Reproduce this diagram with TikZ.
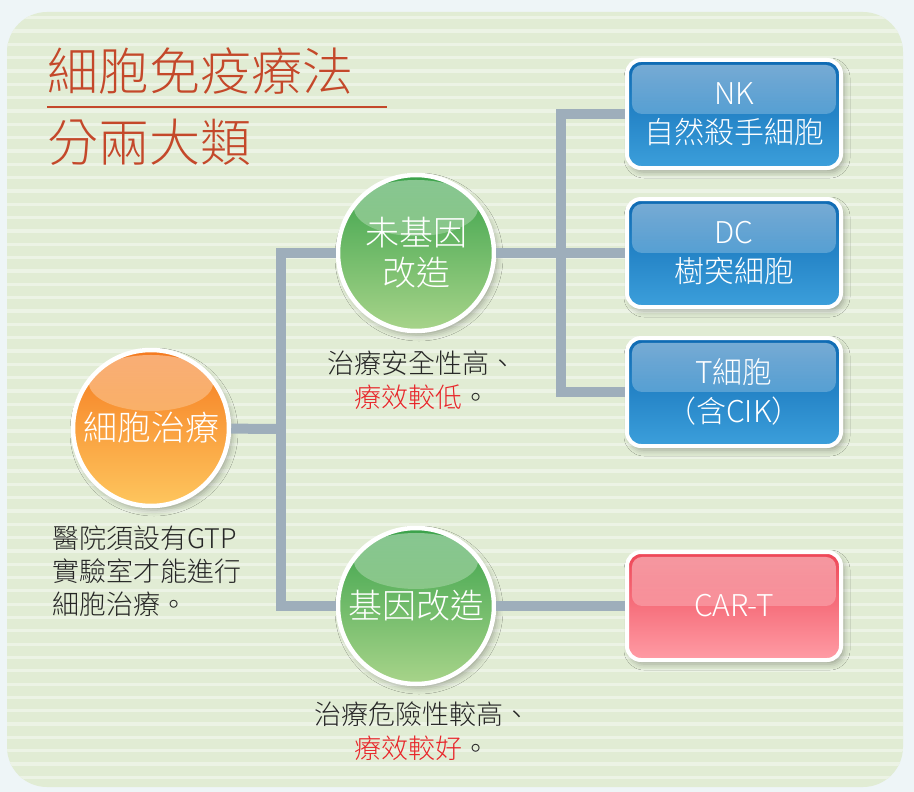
\documentclass[tikz,border=0pt]{standalone}
\usepackage{fontspec}
\IfFontExistsTF{Noto Sans CJK TC Light}{\setmainfont{Noto Sans CJK TC Light}}{\setmainfont{Noto Sans CJK TC}}
\usetikzlibrary{shadows.blur,fadings,calc}
\definecolor{outerbg}{HTML}{EEF5F7}
\definecolor{panelbg}{HTML}{E1ECD4}
\definecolor{stripe}{HTML}{ECF3E5}
\definecolor{titlecol}{HTML}{C4482A}
\definecolor{redtxt}{HTML}{E8262A}
\definecolor{connc}{HTML}{9EAEBB}
\definecolor{orTop}{HTML}{F57A1F}
\definecolor{orBot}{HTML}{FEC65E}
\definecolor{grTop}{HTML}{3AA24A}
\definecolor{grBot}{HTML}{A8D48A}
\definecolor{blTop}{HTML}{0E6AB3}
\definecolor{blMid}{HTML}{2588CC}
\definecolor{blBot}{HTML}{3C9FDB}
\definecolor{rdTop}{HTML}{EE4656}
\definecolor{rdMid}{HTML}{FF6A77}
\definecolor{rdBot}{HTML}{FF9CA5}
\begin{document}
\begin{tikzpicture}[x=1pt,y=-1pt,
  titletxt/.style={font=\fontsize{51}{56}\selectfont, text=titlecol, inner sep=0pt},
  ball/.style={circle, draw=white, line width=4.5pt, minimum size=156pt, inner sep=0pt,
    text=white, align=center, font=\fontsize{34}{40}\selectfont,
    blur shadow={shadow xshift=3pt, shadow yshift=-4pt, shadow opacity=30, shadow blur radius=6pt},
    path picture={\fill[white, fill opacity=0.4, path fading=south]
      ([yshift=-33pt]path picture bounding box.north) ellipse [x radius=62pt, y radius=28pt];}},
  orball/.style={ball, top color=orTop, bottom color=orBot},
  grball/.style={ball, top color=grTop, bottom color=grBot},
  cellbox/.style={rectangle, rounded corners=14pt, draw=white, line width=4pt,
    minimum width=214pt, minimum height=108pt, inner sep=0pt, text=white, align=center,
    font=\fontsize{30}{39}\selectfont,
    blur shadow={shadow xshift=3pt, shadow yshift=-4pt, shadow opacity=30, shadow blur radius=6pt},
    path picture={\fill[white, fill opacity=0.45, path fading=south, rounded corners=10pt]
      ([xshift=5pt,yshift=-5pt]path picture bounding box.north west) rectangle
      ([xshift=-5pt,yshift=0pt]path picture bounding box.east);}},
  bluebox/.style={cellbox, top color=blTop, middle color=blMid, bottom color=blBot},
  redbox/.style={cellbox, top color=rdTop, middle color=rdMid, bottom color=rdBot},
  capt/.style={font=\fontsize{27}{34}\selectfont, align=center, text=black!85, inner sep=0pt},
  conn/.style={line width=10pt, draw=connc, line join=miter}
]
\useasboundingbox (0,0) rectangle (914,792);
\fill[outerbg] (0,0) rectangle (914,792);
\fill[panelbg, rounded corners=40pt] (7,12) rectangle (903,787);
\begin{scope}
  \clip[rounded corners=40pt] (7,12) rectangle (903,787);
  \foreach \y in {16,29.33,...,790} \fill[stripe] (7,\y) rectangle (903,\y+3.3);
\end{scope}

% title
\node[titletxt, anchor=west] (t1) at (47,71) {細胞免疫療法};
\node[titletxt, anchor=west] (t2) at (47,142) {分兩大類};
\draw[titlecol, line width=2pt] (47,107) -- (387,107);

% circles
\node[orball] (cell) at (151,428) {細胞治療};
\node[grball] (c1) at (416,253) {未基因\\改造};
\node[grball] (c2) at (416,606) {基因改造};

% boxes
\node[bluebox] (nk) at (734,114) {NK\\自然殺手細胞};
\node[bluebox] (dc) at (734,253) {DC\\樹突細胞};
\node[bluebox] (tc) at (734,392) {T細胞\\（含CIK）};
\node[redbox, font=\fontsize{30}{36}\selectfont] (cart) at (734,606) {CAR-T};

% captions
\node[capt] (cap1) at (422,380) {治療安全性高、\\{\color{redtxt}療效較低}。};
\node[capt] (cap2) at (422,731) {治療危險性較高、\\{\color{redtxt}療效較好}。};
\node[capt, align=left, anchor=west, font=\fontsize{27}{33}\selectfont] (note) at (52,571) {醫院須設有GTP\\實驗室才能進行\\細胞治療。};

% connectors
\coordinate (jA) at (281,429);
\coordinate (jT) at (281,253);
\coordinate (jB) at (281,606);
\coordinate (jR) at (561,253);
\draw[conn] (cell) -- (jA);
\draw[conn] (c1) -- (jT) -- (jB) -- (c2);
\draw[conn] (c1) -- (dc);
\draw[conn] (nk) -- (nk -| jR) -- (tc -| jR) -- (tc);
\draw[conn] (c2) -- (cart);
\end{tikzpicture}
\end{document}
